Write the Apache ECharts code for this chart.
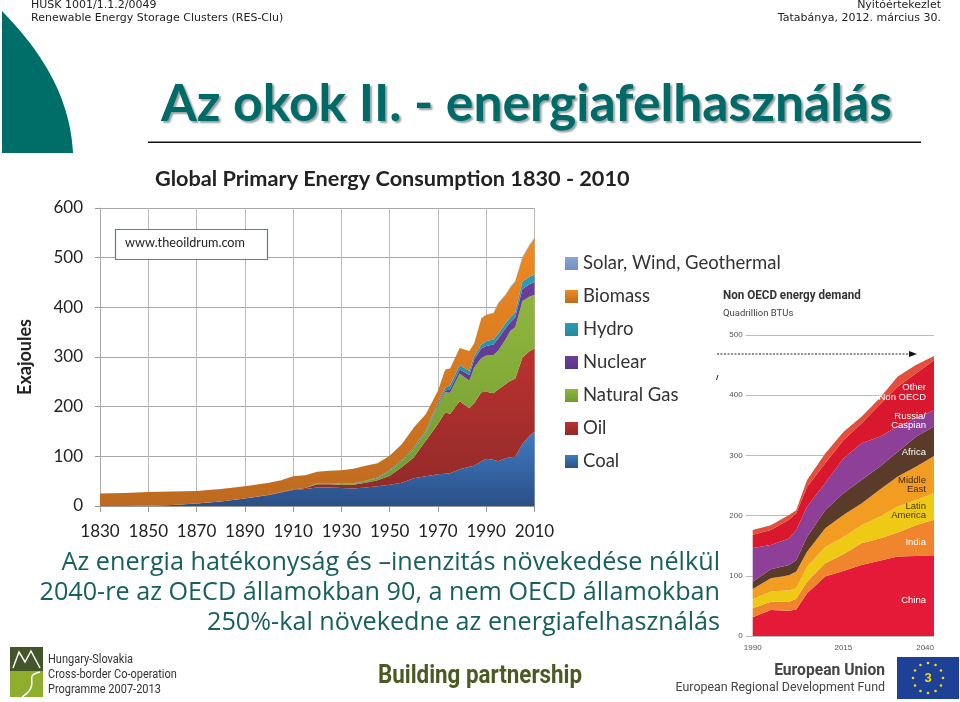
<!DOCTYPE html>
<html><head><meta charset="utf-8">
<style>html,body{margin:0;padding:0;background:#fff}#c{width:960px;height:702px}</style>
<script src="https://cdn.jsdelivr.net/npm/echarts@6/dist/echarts.min.js"></script>
</head><body><div id="c"></div>
<script>
// ---------- Left chart: Global Primary Energy Consumption (EJ) ----------
const years = [1830,1840,1850,1860,1870,1880,1890,1900,1905,1910,1915,1920,1925,1930,1935,1940,1945,1950,1955,1960,1965,1970,1973,1975,1979,1983,1985,1988,1990,1993,1995,1998,2000,2002,2005,2008,2010];
const coal    = [0,0,0.5,2,5,9,15,22,27,32,34,37,37,36,35,37,40,43,47,56,60,64,65,66,74,79,81,90,95,93,90,96,98,99,125,142,150];
const oil     = [0,0,0,0,0,0,0,0.5,1,1,2,7,7,7,8,10,12,18,31,42,72,101,124,119,137,118,126,139,135,134,145,149,154,157,174,170,167];
const gas     = [0,0,0,0,0,0,0,0,0,0,0,1,1.5,2,2,3,4,9,12,17,16,37,40,43,56,55,72,69,73,77,78,90,101,104,114,110,108];
const nuclear = [0,0,0,0,0,0,0,0,0,0,0,0,0,0,0,0,0,0,0,0,0.5,2,3,7,8,12,16,19,19,21,24,23,17,20,24,25,26];
const hydro   = [0,0,0,0,0,0,0,0,0,0,0,1,1,1,1,1,1.5,2,2.5,3,3.5,4,6,8,9,8,7,8,10,10,10,10,10,10,15,15,15];
const biomass = [25,26,27.5,27,25,25,25,24.5,24,27,26,23,24.5,26,29,30,28.5,29,32,40,33,24,37,34,34,40,25,53,53,53,61,57,60,62,48,63,74];
const solar   = [0,0,0,0,0,0,0,0,0,0,0,0,0,0,0,0,0,0,0,0,0,0,0,0,0,0,0,0.5,0.5,1,1,1,1.5,1.5,2,2,3];
const energyNames = ['Solar, Wind, Geothermal','Biomass','Hydro','Nuclear','Natural Gas','Oil','Coal'];
// ---------- Right chart: Non OECD energy demand (Quadrillion BTUs) ----------
const demandYears = [1990,1995,2000,2002,2005,2010,2015,2020,2025,2030,2035,2040];
const china    = [31,43,42,44,71,99,108,118,125,132,133,134];
const india    = [15,14,15,18,19,22,28,36,37,40,51,59];
const latin    = [15,17,19,17,25,27,28,30,36,43,42,44];
const midEast  = [17,22,25,28,25,31,37,36,45,50,55,62];
const africa   = [12,15,17,19,25,30,36,39,38,41,50,49];
const russia   = [56,40,44,50,50,45,58,61,50,42,31,27];
const otherA   = [22,25,31,28,33,33,30,33,53,66,74,83];
const otherB   = [8,8,8,5,11,16,14,11,11,17,14,7];

const BASE = 1830, BASE2 = 1990;
const grad = (a,b)=>new echarts.graphic.LinearGradient(0,0,0,1,[{offset:0,color:a},{offset:1,color:b}]);
const left = (name,vals,col)=>({name,type:'line',stack:'e',xAxisIndex:0,yAxisIndex:0,symbol:'none',showSymbol:false,
  dimensions:['v','x'],encode:{x:'x',y:'v'},
  lineStyle:{width:0},itemStyle:{color:col},areaStyle:{color:col,opacity:1},silent:true,
  data:years.map((y,i)=>[vals[i],y-BASE])});
const right = (name,vals,col)=>({name,type:'line',stack:'d',xAxisIndex:1,yAxisIndex:1,symbol:'none',showSymbol:false,
  dimensions:['v','x'],encode:{x:'x',y:'v'},
  lineStyle:{width:0},itemStyle:{color:col},areaStyle:{color:col,opacity:1},silent:true,
  data:demandYears.map((y,i)=>[vals[i],y-BASE2])});

const teal='#006a68', body='#17605f';
const t=(x,y,text,o={},sx=1)=>({type:'text',x,y,z:100,silent:true,scaleX:sx,style:Object.assign({text,fill:'#222',font:'12px "DejaVu Sans"',textVerticalAlign:'middle',textAlign:'left'},o)});
const bez=(p0,p1,p2,p3,n=24)=>{const r=[];for(let i=0;i<=n;i++){const u=i/n,v=1-u;
  r.push([v*v*v*p0[0]+3*v*v*u*p1[0]+3*v*u*u*p2[0]+u*u*u*p3[0],v*v*v*p0[1]+3*v*v*u*p1[1]+3*v*u*u*p2[1]+u*u*u*p3[1]]);}return r;};

const graphics=[
  {type:'polygon',z:50,silent:true,shape:{points:bez([2,11],[40,50],[70,95],[73,153]).concat([[2,153]])},style:{fill:'#006e68'}},
  t(31,5,'HUSK 1001/1.1.2/0049',{font:'11px "DejaVu Sans"'}),
  t(31,18,'Renewable Energy Storage Clusters (RES-Clu)',{font:'11px "DejaVu Sans"'}),
  t(941,5,'Nyitóértekezlet',{font:'11px "DejaVu Sans"',textAlign:'right'}),
  t(941,18,'Tatabánya, 2012. március 30.',{font:'11px "DejaVu Sans"',textAlign:'right'}),
  t(161,104,'Az okok II. - energiafelhasználás',{font:'bold 51.6px Lato',fill:teal,textShadowColor:'rgba(60,80,80,0.55)',textShadowBlur:2,textShadowOffsetX:2,textShadowOffsetY:2}),
  {type:'rect',z:50,silent:true,shape:{x:148,y:141.5,width:773,height:1.6},style:{fill:'#111'}},
  // website box
  {type:'rect',z:60,silent:true,shape:{x:115.5,y:229.5,width:152,height:30},style:{fill:'#fff',stroke:'#4f82a6',lineWidth:1.2}},
  t(125,243,'www.theoildrum.com',{font:'12.7px Lato',fill:'#222'}),
  // body text
  t(720,563,'Az energia hatékonyság és –inenzitás növekedése nélkül',{font:'25.2px "Open Sans"',fill:body,textAlign:'right'}),
  t(720,593,'2040-re az OECD államokban 90, a nem OECD államokban',{font:'25.2px "Open Sans"',fill:body,textAlign:'right'}),
  t(720,623,'250%-kal növekedne az energiafelhasználás',{font:'25.2px "Open Sans"',fill:body,textAlign:'right'}),
  // right chart heading and annotations
  t(723,296,'Non OECD energy demand',{font:'bold 12px Roboto',fill:'#333'},0.97),
  t(723,314,'Quadrillion BTUs',{font:'9.5px Roboto',fill:'#444'}),
  {type:'line',z:60,silent:true,shape:{x1:717,y1:354,x2:910,y2:354},style:{stroke:'#222',lineWidth:1.2,lineDash:[2,1.5]}},
  {type:'polygon',z:60,silent:true,shape:{points:[[909,351],[917,354],[909,357]]},style:{fill:'#111'}},
  {type:'line',z:60,silent:true,shape:{x1:716.5,y1:380,x2:718,y2:375},style:{stroke:'#333',lineWidth:1}},
  // band names
  t(926,387,'Other',{font:'9.5px "Liberation Sans"',fill:'#fff',textAlign:'right'}),
  t(926,397,'Non OECD',{font:'9.5px "Liberation Sans"',fill:'#fff',textAlign:'right'}),
  t(926,416,'Russia/',{font:'9.5px "Liberation Sans"',fill:'#fff',textAlign:'right'}),
  t(926,425,'Caspian',{font:'9.5px "Liberation Sans"',fill:'#fff',textAlign:'right'}),
  t(926,452,'Africa',{font:'9.5px "Liberation Sans"',fill:'#fff',textAlign:'right'}),
  t(926,480,'Middle',{font:'9.5px "Liberation Sans"',fill:'#3a2a20',textAlign:'right'}),
  t(926,489,'East',{font:'9.5px "Liberation Sans"',fill:'#3a2a20',textAlign:'right'}),
  t(926,506,'Latin',{font:'9.5px "Liberation Sans"',fill:'#4a3a10',textAlign:'right'}),
  t(926,515,'America',{font:'9.5px "Liberation Sans"',fill:'#4a3a10',textAlign:'right'}),
  t(926,542,'India',{font:'9.5px "Liberation Sans"',fill:'#fff',textAlign:'right'}),
  t(926,600,'China',{font:'9.5px "Liberation Sans"',fill:'#fff',textAlign:'right'}),
  // footer
  {type:'rect',z:50,silent:true,shape:{x:10,y:647,width:33,height:24},style:{fill:'#45552a'}},
  {type:'rect',z:50,silent:true,shape:{x:10,y:671,width:33,height:26},style:{fill:'#8fae2e'}},
  {type:'polyline',z:51,silent:true,shape:{points:[[13,668],[19,652],[25,662],[31,651],[40,668]]},style:{fill:null,stroke:'#fff',lineWidth:1.5}},
  {type:'polyline',z:51,silent:true,shape:{points:bez([40,672],[22,676],[42,684],[22,697])},style:{fill:null,stroke:'#fff',lineWidth:1.5}},
  t(48,660,'Hungary-Slovakia',{font:'12.5px Roboto',fill:'#333'},0.88),
  t(48,675,'Cross-border Co-operation',{font:'12.5px Roboto',fill:'#333'},0.88),
  t(48,690,'Programme 2007-2013',{font:'12.5px Roboto',fill:'#333'},0.88),
  t(480,676,'Building partnership',{font:'bold 26px Roboto',fill:'#4b5a22',textAlign:'center'},0.86),
  t(885,671,'European Union',{font:'bold 17px Roboto',fill:'#444',textAlign:'right'},0.92),
  t(885,688,'European Regional Development Fund',{font:'13.5px Roboto',fill:'#444',textAlign:'right'},0.92),
  {type:'rect',z:50,silent:true,shape:{x:897,y:657,width:62,height:42},style:{fill:'#1d4197'}},
  t(928,678,'3',{font:'bold 13px "Liberation Sans"',fill:'#f5d90a',textAlign:'center'})
];
for(let i=0;i<12;i++){const a=i*Math.PI/6;
  graphics.push({type:'circle',z:51,silent:true,shape:{cx:928+15*Math.cos(a),cy:678+15*Math.sin(a),r:1.3},style:{fill:'#f5d90a'}});}

const chart=echarts.init(document.getElementById('c'),null,{renderer:'canvas'});
chart.setOption({
  animation:false,backgroundColor:'#fff',
  title:{text:'Global Primary Energy Consumption 1830 - 2010',left:155,top:168,padding:0,
    textStyle:{fontFamily:'Lato',fontWeight:'bold',fontSize:21.7,color:'#222'}},
  legend:{data:energyNames,orient:'vertical',left:565,top:254,itemWidth:13,itemHeight:13,itemGap:14,padding:0,icon:'rect',
    selectedMode:false,textStyle:{fontFamily:'Lato',fontSize:18.5,color:'#333'}},
  grid:[
    {left:100,width:434.5,top:208,height:298},
    {left:752.7,width:181.3,top:335,height:301}
  ],
  xAxis:[
    {type:'value',gridIndex:0,min:0,max:180,interval:20,
      axisLine:{show:true,lineStyle:{color:'#999'}},axisTick:{show:true,length:6,lineStyle:{color:'#999'}},
      splitLine:{show:true,lineStyle:{color:'#bbb'}},
      axisLabel:{margin:17,fontFamily:'Lato',fontSize:17,color:'#222',formatter:v=>String(BASE+v),hideOverlap:false}},
    {type:'value',gridIndex:1,min:0,max:50,interval:25,
      axisLine:{show:false},axisTick:{show:false},splitLine:{show:false},
      axisLabel:{margin:8,fontFamily:'Liberation Sans',fontSize:8,color:'#555',alignMaxLabel:'right',formatter:v=>String(BASE2+v)}}
  ],
  yAxis:[
    {type:'value',gridIndex:0,min:0,max:600,interval:100,name:'Exajoules',nameLocation:'middle',nameRotate:90,nameGap:66,
      nameTextStyle:{fontFamily:'Lato',fontWeight:'bold',fontSize:18,color:'#222'},
      axisLine:{show:true,lineStyle:{color:'#aaa'}},axisTick:{show:true,length:5,lineStyle:{color:'#999'}},
      splitLine:{show:true,lineStyle:{color:'#a8a8a8'}},
      axisLabel:{margin:17,fontFamily:'Lato',fontSize:17,color:'#222'}},
    {type:'value',gridIndex:1,min:0,max:500,interval:100,
      axisLine:{show:false},axisTick:{show:true,length:7,lineStyle:{color:'#bbb'}},
      splitLine:{show:true,lineStyle:{color:'#bbb'}},
      axisLabel:{margin:10,fontFamily:'Liberation Sans',fontSize:8,color:'#555'}}
  ],
  series:[
    left('Coal',coal,grad('#3f7cc2','#2b4f86')),
    left('Oil',oil,grad('#bb3230','#8e2a28')),
    left('Natural Gas',gas,grad('#8fb63e','#6f9a30')),
    left('Nuclear',nuclear,grad('#6a3f99','#5a3585')),
    left('Hydro',hydro,grad('#2a9cb4','#2388a0')),
    left('Biomass',biomass,grad('#ee8a22','#bd6a20')),
    left('Solar, Wind, Geothermal',solar,grad('#8aa6d0','#6f8fc0')),
    right('China',china,'#e51a38'),
    right('India',india,'#f0852d'),
    right('Latin America',latin,'#eeca14'),
    right('Middle East',midEast,'#f39c22'),
    right('Africa',africa,'#5a3a28'),
    right('Russia/Caspian',russia,'#8e3f98'),
    right('Other Non OECD',otherA,'#d9182d'),
    right('Other Non OECD edge',otherB,'#e34f3b')
  ],
  graphic:{elements:graphics}
});
</script></body></html>
